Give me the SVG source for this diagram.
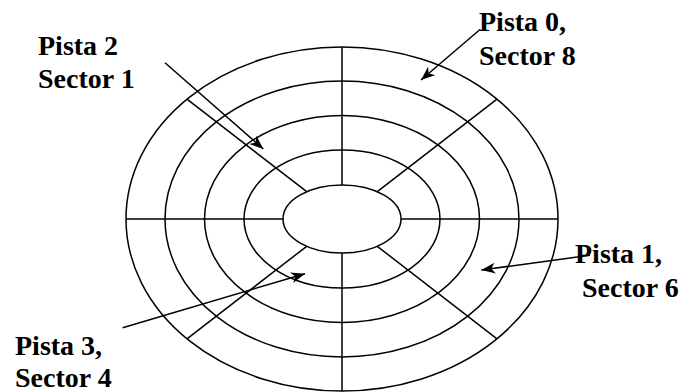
<svg xmlns="http://www.w3.org/2000/svg" width="684" height="392" viewBox="0 0 684 392">
<style>
.trk{fill:none;stroke:#000;stroke-width:1.5}
.rad{stroke:#000;stroke-width:1.5;fill:none}
.arr{stroke:#000;stroke-width:1.5;fill:none;marker-end:url(#ah)}
.lbl{font-family:"Liberation Serif","Times New Roman",serif;font-weight:bold;font-size:28px;fill:#000}
</style>
<defs>
<marker id="ah" markerUnits="userSpaceOnUse" markerWidth="16" markerHeight="12" refX="14" refY="5.5" orient="auto" viewBox="0 0 16 11">
<path d="M0,0 L14,5.5 L0,11 L4,5.5 z" fill="#000"/>
</marker>
</defs>
<rect width="684" height="392" fill="#fff"/>
<g id="disk">
<ellipse class="trk" cx="342" cy="219" rx="216" ry="172"/>
<ellipse class="trk" cx="342" cy="219" rx="177" ry="138"/>
<ellipse class="trk" cx="342" cy="219" rx="137.5" ry="103.5"/>
<ellipse class="trk" cx="342" cy="219" rx="98" ry="69"/>
<ellipse class="trk" cx="342" cy="219" rx="59" ry="34"/>
</g>
<g id="sectors">
<line class="rad" x1="126" y1="219" x2="283" y2="219"/>
<line class="rad" x1="401" y1="219" x2="558" y2="219"/>
<line class="rad" x1="342" y1="47" x2="342" y2="185"/>
<line class="rad" x1="342" y1="253" x2="342" y2="391"/>
<line class="rad" x1="497" y1="99.2" x2="377.3" y2="191.7"/>
<line class="rad" x1="187" y1="99.2" x2="306.7" y2="191.7"/>
<line class="rad" x1="187" y1="338.8" x2="306.7" y2="246.3"/>
<line class="rad" x1="497" y1="338.8" x2="377.3" y2="246.3"/>
</g>
<g id="label-pista2">
<text class="lbl" x="38" y="55">Pista 2</text>
<text class="lbl" x="38" y="88">Sector 1</text>
</g>
<g id="label-pista0">
<text class="lbl" x="479" y="31">Pista 0,</text>
<text class="lbl" x="479" y="65">Sector 8</text>
</g>
<g id="label-pista1">
<text class="lbl" x="575" y="263">Pista 1,</text>
<text class="lbl" x="582" y="297">Sector 6</text>
</g>
<g id="label-pista3">
<text class="lbl" x="15" y="355">Pista 3,</text>
<text class="lbl" x="15" y="387">Sector 4</text>
</g>
<g id="connectors">
<line class="arr" x1="165" y1="62.7" x2="263.3" y2="149"/>
<line class="arr" x1="480.3" y1="29.3" x2="421" y2="80"/>
<line class="arr" x1="122.7" y1="327.7" x2="305" y2="273.7"/>
<line class="arr" x1="590" y1="255.3" x2="481.3" y2="270"/>
</g>
</svg>
